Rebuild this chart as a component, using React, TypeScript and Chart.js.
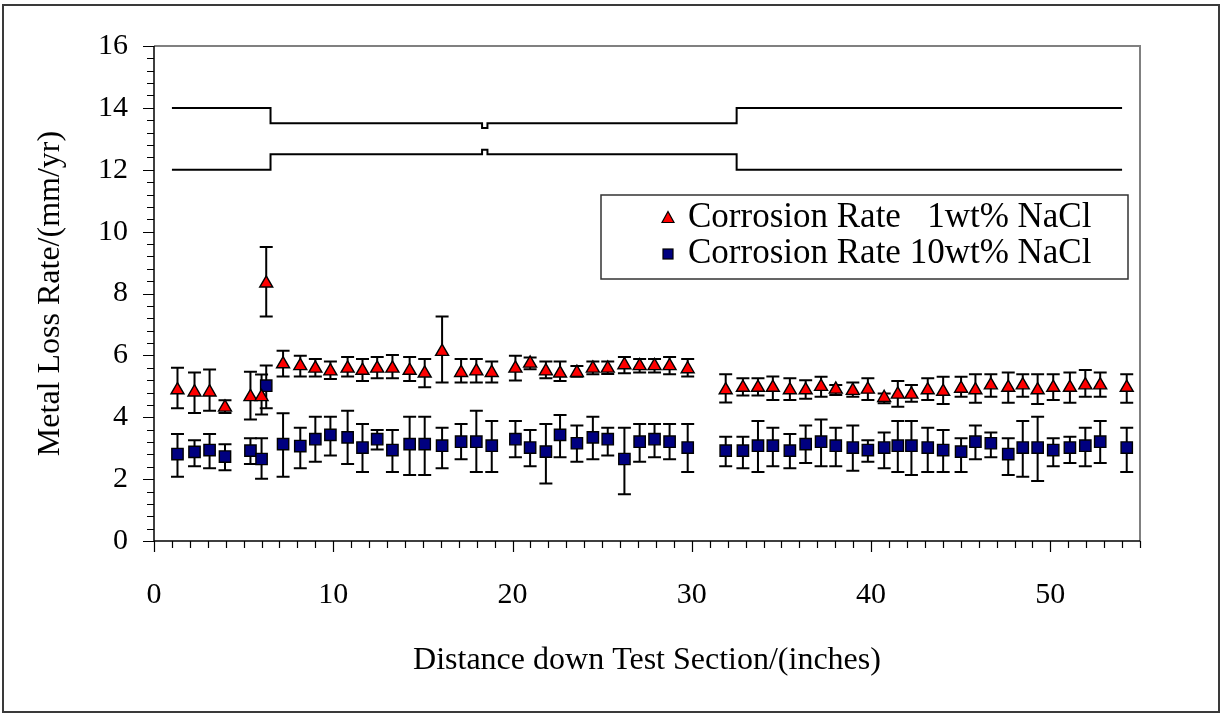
import React, { useEffect, useRef } from 'react';
import { Chart, registerables } from 'chart.js';

Chart.register(...registerables);

// ---- data ----
const positions = [
  1.31, 2.26, 3.1, 3.96, 5.38, 6.0, 6.26, 7.2, 8.16, 9.0,
  9.84, 10.8, 11.63, 12.45, 13.3, 14.26, 15.1, 16.07, 17.13, 17.98,
  18.84, 20.16, 20.98, 21.86, 22.65, 23.59, 24.48, 25.31, 26.24, 27.09,
  27.92, 28.76, 29.77, 31.89, 32.85, 33.69, 34.52, 35.47, 36.35, 37.21,
  38.03, 38.98, 39.82, 40.73, 41.49, 42.25, 43.16, 44.02, 45.02, 45.82,
  46.68, 47.65, 48.46, 49.29, 50.16, 51.09, 51.95, 52.78, 54.26,
];

const rate1 = [
  4.88, 4.81, 4.81, 4.32, 4.66, 4.66, 8.33, 5.72, 5.66, 5.58,
  5.49, 5.58, 5.51, 5.58, 5.58, 5.51, 5.42, 6.12, 5.44, 5.49,
  5.44, 5.58, 5.74, 5.49, 5.42, 5.44, 5.58, 5.58, 5.69, 5.66,
  5.66, 5.66, 5.56, 4.88, 4.96, 4.96, 4.96, 4.88, 4.88, 4.99,
  4.9, 4.86, 4.9, 4.63, 4.74, 4.74, 4.88, 4.83, 4.93, 4.88,
  5.04, 4.96, 5.04, 4.88, 4.96, 4.96, 5.04, 5.04, 4.96,
];
const rate1Hi = [
  5.6, 5.45, 5.54, 4.55, 5.47, 5.38, 9.5, 6.15, 5.99, 5.88,
  5.8, 5.95, 5.88, 5.95, 6.01, 5.95, 5.88, 7.26, 5.88, 5.88,
  5.8, 5.99, 5.93, 5.8, 5.8, 5.66, 5.8, 5.8, 5.95, 5.88,
  5.88, 5.95, 5.88, 5.39, 5.26, 5.26, 5.32, 5.26, 5.2, 5.31,
  5.04, 5.12, 5.26, 4.77, 5.17, 5.04, 5.26, 5.31, 5.31, 5.39,
  5.39, 5.45, 5.39, 5.39, 5.39, 5.45, 5.53, 5.45, 5.39,
];
const rate1Lo = [
  4.29, 4.14, 4.21, 4.14, 3.93, 4.09, 7.26, 5.32, 5.32, 5.32,
  5.24, 5.32, 5.17, 5.26, 5.26, 5.17, 4.97, 5.12, 5.12, 5.12,
  5.12, 5.19, 5.55, 5.26, 5.17, 5.31, 5.39, 5.4, 5.42, 5.45,
  5.45, 5.39, 5.32, 4.48, 4.7, 4.7, 4.56, 4.56, 4.6, 4.66,
  4.72, 4.66, 4.56, 4.45, 4.34, 4.5, 4.56, 4.43, 4.66, 4.47,
  4.66, 4.47, 4.66, 4.43, 4.56, 4.47, 4.66, 4.66, 4.47,
];

const rate10 = [
  2.81, 2.88, 2.94, 2.73, 2.92, 2.65, 5.02, 3.13, 3.07, 3.29,
  3.43, 3.35, 3.02, 3.29, 2.94, 3.13, 3.13, 3.08, 3.21, 3.21,
  3.08, 3.29, 3.02, 2.89, 3.43, 3.16, 3.35, 3.29, 2.65, 3.21,
  3.29, 3.21, 3.02, 2.92, 2.92, 3.08, 3.08, 2.92, 3.13, 3.21,
  3.08, 3.02, 2.94, 3.02, 3.08, 3.08, 3.02, 2.94, 2.89, 3.21,
  3.16, 2.81, 3.02, 3.02, 2.94, 3.02, 3.08, 3.21, 3.02,
];
const rate10Hi = [
  3.46, 3.26, 3.46, 3.13, 3.32, 3.32, 5.67, 4.13, 3.66, 4.02,
  4.02, 4.21, 3.78, 3.59, 3.59, 4.02, 4.02, 3.66, 3.78, 4.21,
  3.88, 3.88, 3.59, 3.78, 4.07, 3.73, 4.02, 3.66, 3.66, 3.78,
  3.78, 3.78, 3.78, 3.37, 3.37, 3.88, 3.66, 3.46, 3.73, 3.93,
  3.66, 3.73, 3.26, 3.51, 3.88, 3.88, 3.66, 3.59, 3.32, 3.73,
  3.51, 3.32, 3.88, 4.02, 3.32, 3.37, 3.66, 3.88, 3.66,
];
const rate10Lo = [
  2.08, 2.42, 2.35, 2.29, 2.49, 2.01, 4.29, 2.08, 2.35, 2.56,
  2.76, 2.49, 2.23, 2.96, 2.23, 2.13, 2.13, 2.35, 2.64, 2.23,
  2.23, 2.71, 2.42, 1.86, 2.71, 2.56, 2.64, 2.76, 1.51, 2.56,
  2.71, 2.64, 2.23, 2.42, 2.35, 2.23, 2.42, 2.35, 2.52, 2.42,
  2.42, 2.27, 2.56, 2.35, 2.23, 2.13, 2.23, 2.23, 2.23, 2.64,
  2.71, 2.13, 2.08, 1.94, 2.42, 2.52, 2.42, 2.52, 2.23,
];

// test-section outline
const pipeX = [1, 6.5, 6.5, 18.3, 18.3, 18.6, 18.6, 32.5, 32.5, 54];
const pipeTopY = [14, 14, 13.5, 13.5, 13.35, 13.35, 13.5, 13.5, 14, 14];
const pipeBottomY = [12, 12, 12.5, 12.5, 12.65, 12.65, 12.5, 12.5, 12, 12];

const xTickValues = [0, 10, 20, 30, 40, 50];
const yTickValues = [0, 2, 4, 6, 8, 10, 12, 14, 16];
const xMinorStep = 1;
const yMinorStep = 0.4;

const legendLabels = ['Corrosion Rate   1wt% NaCl', 'Corrosion Rate 10wt% NaCl'];
const xTitle = 'Distance down Test Section/(inches)';
const yTitle = 'Metal Loss Rate/(mm/yr)';

const FONT = '"Liberation Serif", "Times New Roman", serif';

const W = 1225;
const H = 715;

const decorPlugin = {
  id: 'decor',
  beforeDraw(chart: any) {
    const ctx = chart.ctx;
    ctx.save();
    ctx.fillStyle = '#ffffff';
    ctx.fillRect(0, 0, W, H);
    ctx.strokeStyle = '#3a3a3a';
    ctx.lineWidth = 2;
    ctx.strokeRect(3, 5, 1216, 707);
    ctx.restore();
  },
  beforeDatasetsDraw(chart: any) {
    const ctx = chart.ctx;
    const xs = chart.scales.x;
    const ys = chart.scales.y;
    ctx.save();
    ctx.strokeStyle = '#000';
    ctx.lineWidth = 2;
    const cap = 6.5;
    chart.data.datasets.forEach((ds: any) => {
      if (!ds.errHi) return;
      ds.data.forEach((p: any, j: number) => {
        const px = xs.getPixelForValue(p.x);
        const hi = ys.getPixelForValue(ds.errHi[j]);
        const lo = ys.getPixelForValue(ds.errLo[j]);
        ctx.beginPath();
        ctx.moveTo(px, hi);
        ctx.lineTo(px, lo);
        ctx.moveTo(px - cap, hi);
        ctx.lineTo(px + cap, hi);
        ctx.moveTo(px - cap, lo);
        ctx.lineTo(px + cap, lo);
        ctx.stroke();
      });
    });
    ctx.restore();
  },
  afterDraw(chart: any) {
    const ctx = chart.ctx;
    const xs = chart.scales.x;
    const ys = chart.scales.y;
    const { left, right, top, bottom } = chart.chartArea;
    ctx.save();
    // plot-area border (top/right grey)
    ctx.strokeStyle = '#808080';
    ctx.lineWidth = 2;
    ctx.beginPath();
    ctx.moveTo(left, top);
    ctx.lineTo(right, top);
    ctx.lineTo(right, bottom);
    ctx.stroke();
    // axes
    ctx.strokeStyle = '#000';
    ctx.lineWidth = 1.5;
    ctx.beginPath();
    ctx.moveTo(left, top);
    ctx.lineTo(left, bottom);
    ctx.lineTo(right, bottom);
    ctx.stroke();
    // ticks
    ctx.lineWidth = 1.2;
    ctx.beginPath();
    const nx = Math.round((xs.max - xs.min) / xMinorStep);
    for (let k = 0; k <= nx; k++) {
      const v = xs.min + k * xMinorStep;
      const px = Math.round(xs.getPixelForValue(v)) + 0.5;
      const major = xTickValues.includes(Math.round(v * 100) / 100);
      ctx.moveTo(px, bottom);
      ctx.lineTo(px, bottom + (major ? 11 : 7));
    }
    const ny = Math.round((ys.max - ys.min) / yMinorStep);
    for (let k = 0; k <= ny; k++) {
      const v = Math.round((ys.min + k * yMinorStep) * 100) / 100;
      const py = Math.round(ys.getPixelForValue(v)) + 0.5;
      const major = yTickValues.includes(v);
      ctx.moveTo(left, py);
      ctx.lineTo(left - (major ? 11 : 7), py);
    }
    ctx.stroke();

    // legend
    const bx = 601, by = 195, bw = 527, bh = 84;
    ctx.strokeStyle = '#333';
    ctx.lineWidth = 1.5;
    ctx.strokeRect(bx, by, bw, bh);
    ctx.fillStyle = '#000';
    ctx.font = `35px ${FONT}`;
    ctx.textBaseline = 'middle';
    ctx.textAlign = 'left';
    const rows = [by + 23, by + 59];
    // triangle marker
    const mx = 668;
    ctx.lineWidth = 1.2;
    ctx.strokeStyle = '#000';
    ctx.beginPath();
    ctx.moveTo(mx, rows[0] - 6.5);
    ctx.lineTo(mx + 6, rows[0] + 4.5);
    ctx.lineTo(mx - 6, rows[0] + 4.5);
    ctx.closePath();
    ctx.fillStyle = '#ff0000';
    ctx.fill();
    ctx.stroke();
    // square marker
    ctx.fillStyle = '#000080';
    ctx.fillRect(mx - 5, rows[1] - 5, 10, 10);
    ctx.strokeRect(mx - 5, rows[1] - 5, 10, 10);
    ctx.fillStyle = '#000';
    ctx.fillText(legendLabels[0], 688, rows[0]);
    ctx.fillText(legendLabels[1], 688, rows[1]);
    ctx.restore();
  },
};

export default function App() {
  const ref = useRef<HTMLCanvasElement | null>(null);

  useEffect(() => {
    if (!ref.current) return;
    const chart = new Chart(ref.current, {
      type: 'scatter',
      data: {
        datasets: [
          {
            label: 'outline top',
            data: pipeX.map((x, i) => ({ x, y: pipeTopY[i] })),
            showLine: true,
            borderColor: '#000',
            borderWidth: 2,
            pointRadius: 0,
            fill: false,
            tension: 0,
          },
          {
            label: 'outline bottom',
            data: pipeX.map((x, i) => ({ x, y: pipeBottomY[i] })),
            showLine: true,
            borderColor: '#000',
            borderWidth: 2,
            pointRadius: 0,
            fill: false,
            tension: 0,
          },
          {
            label: legendLabels[0],
            data: positions.map((x, i) => ({ x, y: rate1[i] })),
            errHi: rate1Hi,
            errLo: rate1Lo,
            showLine: false,
            pointStyle: 'triangle',
            pointRadius: 7.5,
            backgroundColor: '#ff0000',
            borderColor: '#000',
            borderWidth: 1.4,
          } as any,
          {
            label: legendLabels[1],
            data: positions.map((x, i) => ({ x, y: rate10[i] })),
            errHi: rate10Hi,
            errLo: rate10Lo,
            showLine: false,
            pointStyle: 'rect',
            pointRadius: 8,
            backgroundColor: '#000080',
            borderColor: '#000',
            borderWidth: 1.4,
          } as any,
        ],
      },
      options: {
        responsive: false,
        maintainAspectRatio: false,
        devicePixelRatio: 1,
        animation: false,
        layout: { padding: { left: 0, top: 46, right: 85, bottom: 0 } },
        plugins: {
          legend: { display: false },
          tooltip: { enabled: false },
        },
        scales: {
          x: {
            type: 'linear',
            min: 0,
            max: 55,
            afterBuildTicks: (s: any) => {
              s.ticks = xTickValues.map((v) => ({ value: v }));
            },
            afterFit: (s: any) => {
              s.height = 174;
            },
            grid: { display: false, drawTicks: true, tickLength: 10 },
            border: { display: false },
            ticks: {
              color: '#000',
              font: { family: FONT, size: 30 },
              padding: 26,
              maxRotation: 0,
              autoSkip: false,
            },
            title: {
              display: true,
              text: xTitle,
              color: '#000',
              font: { family: FONT, size: 32 },
              padding: { top: 0, bottom: 35 },
            },
          },
          y: {
            type: 'linear',
            min: 0,
            max: 16,
            afterBuildTicks: (s: any) => {
              s.ticks = yTickValues.map((v) => ({ value: v }));
            },
            afterFit: (s: any) => {
              s.width = 154;
            },
            grid: { display: false, drawTicks: true, tickLength: 10 },
            border: { display: false },
            ticks: {
              color: '#000',
              font: { family: FONT, size: 30 },
              padding: 16,
              autoSkip: false,
            },
            title: {
              display: true,
              text: yTitle,
              color: '#000',
              font: { family: FONT, size: 32 },
              padding: { top: 31, bottom: 0 },
            },
          },
        },
      },
      plugins: [decorPlugin],
    } as any);
    return () => chart.destroy();
  }, []);

  return (
    <div style={{ position: 'absolute', left: 0, top: 0, width: W, height: H }}>
      <canvas ref={ref} width={W} height={H} style={{ display: 'block' }} />
    </div>
  );
}
